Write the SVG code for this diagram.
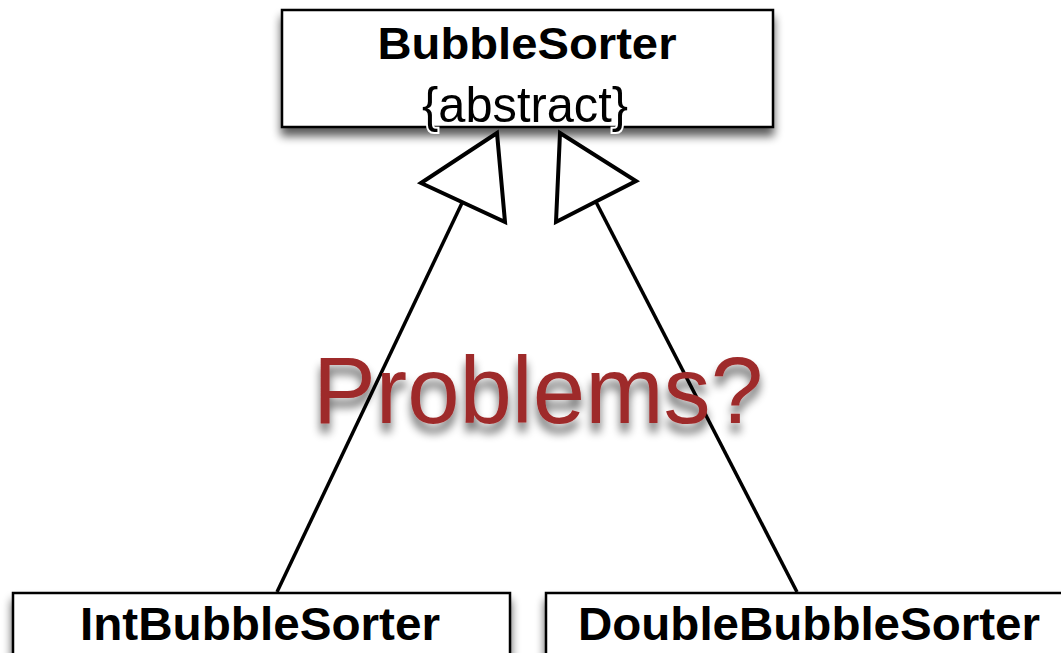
<svg xmlns="http://www.w3.org/2000/svg" width="1061" height="653" viewBox="0 0 1061 653">
  <defs>
    <filter id="boxShadow" x="-10%" y="-30%" width="120%" height="170%">
      <feGaussianBlur in="SourceAlpha" stdDeviation="5"/>
      <feOffset dx="0" dy="8" result="b"/>
      <feComponentTransfer><feFuncA type="linear" slope="0.65"/></feComponentTransfer>
      <feMerge><feMergeNode/><feMergeNode in="SourceGraphic"/></feMerge>
    </filter>
    <filter id="textShadow" x="-10%" y="-30%" width="120%" height="170%">
      <feGaussianBlur in="SourceAlpha" stdDeviation="5"/>
      <feOffset dx="0" dy="9" result="b"/>
      <feComponentTransfer><feFuncA type="linear" slope="0.6"/></feComponentTransfer>
      <feMerge><feMergeNode/><feMergeNode in="SourceGraphic"/></feMerge>
    </filter>
  </defs>
  <style>
    .box { fill: #ffffff; stroke: #000000; stroke-width: 2.5; }
    .name { font-family: "Liberation Sans", Arial, sans-serif; font-weight: bold; fill: #000000; text-anchor: middle; }
    .tag { font-family: "Liberation Sans", Arial, sans-serif; fill: #000000; text-anchor: middle; }
    .edge { stroke: #000000; stroke-width: 3.5; fill: none; }
    .head { fill: #ffffff; stroke: #000000; stroke-width: 4; stroke-linejoin: miter; }
    .note { font-family: "Liberation Sans", Arial, sans-serif; fill: #9e2a2a; text-anchor: middle; }
  </style>
  <rect width="1061" height="653" fill="#ffffff"/>

  <g id="BubbleSorter">
    <rect class="box" x="282" y="10" width="491" height="117" filter="url(#boxShadow)"/>
    <text class="name" x="527" y="59" font-size="45" textLength="299" lengthAdjust="spacingAndGlyphs">BubbleSorter</text>
    <text class="tag" x="525" y="122" font-size="50" textLength="206" lengthAdjust="spacingAndGlyphs" stroke="#ffffff" stroke-width="4" paint-order="stroke">{abstract}</text>
  </g>

  <g id="IntBubbleSorter">
    <rect class="box" x="13" y="593" width="497" height="80" filter="url(#boxShadow)"/>
    <text class="name" x="260" y="640" font-size="46" textLength="360" lengthAdjust="spacingAndGlyphs">IntBubbleSorter</text>
  </g>

  <g id="DoubleBubbleSorter">
    <rect class="box" x="546" y="593" width="530" height="80" filter="url(#boxShadow)"/>
    <text class="name" x="809" y="640" font-size="46" textLength="462" lengthAdjust="spacingAndGlyphs">DoubleBubbleSorter</text>
  </g>

  <g id="connectors">
    <line class="edge" x1="277" y1="592" x2="462" y2="203"/>
    <polygon class="head" points="497,133 421,183 505,222"/>
    <line class="edge" x1="797" y1="592" x2="596" y2="202"/>
    <polygon class="head" points="560,133 636,181 556,222"/>
  </g>

  <g id="note">
    <text class="note" x="538" y="423" font-size="94" textLength="450" lengthAdjust="spacingAndGlyphs" filter="url(#textShadow)">Problems?</text>
  </g>
</svg>
